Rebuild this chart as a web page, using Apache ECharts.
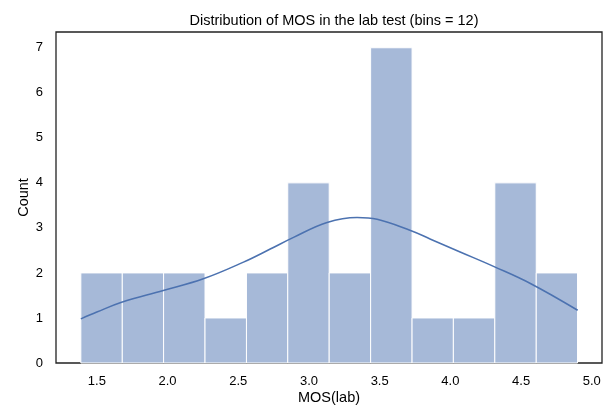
<!DOCTYPE html>
<html><head><meta charset="utf-8">
<script src="https://cdn.jsdelivr.net/npm/echarts@6/dist/echarts.min.js"></script>
<style>html,body{margin:0;padding:0;background:#fff}#c{width:608px;height:408px}</style>
</head><body><div id="c"></div>
<script>
const binEdges = [1.387, 1.680, 1.972, 2.265, 2.558, 2.850, 3.143, 3.436, 3.729, 4.021, 4.314, 4.607, 4.899];
const counts = [2, 2, 2, 1, 2, 4, 2, 7, 1, 1, 4, 2];
const kdeX = [1.387, 1.5, 1.675, 1.97, 2.253, 2.537, 2.726, 2.891, 3.128, 3.34, 3.482, 3.718, 3.86, 4.073, 4.309, 4.569, 4.9];
const kdeY = [0.98, 1.13, 1.35, 1.61, 1.87, 2.24, 2.53, 2.79, 3.12, 3.23, 3.19, 2.94, 2.75, 2.46, 2.14, 1.76, 1.17];
const xTicks = [1.5, 2.0, 2.5, 3.0, 3.5, 4.0, 4.5, 5.0];
const yTicks = [0, 1, 2, 3, 4, 5, 6, 7];

const barData = counts.map((c, i) => [binEdges[i], binEdges[i + 1], c]);
const kdeData = kdeX.map((x, i) => [x, kdeY[i]]);
const font = 'Liberation Sans, Arial, sans-serif';

const chart = echarts.init(document.getElementById('c'), null, {renderer: 'canvas'});
chart.setOption({
  animation: false,
  title: {text: 'Distribution of MOS in the lab test (bins = 12)', left: 329, textAlign: 'center', top: 8,
    textStyle: {fontFamily: font, fontSize: 14.5, fontWeight: 'normal', color: '#000'}},
  grid: {left: 56, right: 6, top: 32, bottom: 45, show: true, borderColor: '#222', borderWidth: 1.3,
    backgroundColor: 'transparent', containLabel: false, outerBoundsMode: 'none'},
  xAxis: {type: 'value', min: 1.2113, max: 5.072,
    name: 'MOS(lab)', nameLocation: 'middle', nameGap: 27, nameMoveOverlap: false,
    nameTextStyle: {fontFamily: font, fontSize: 14.5, color: '#000'},
    axisLine: {show: false}, axisTick: {show: false}, splitLine: {show: false},
    axisLabel: {customValues: xTicks, formatter: v => v.toFixed(1), fontFamily: font, fontSize: 13, color: '#000', margin: 12}},
  yAxis: {type: 'value', min: 0, max: 7.35,
    name: 'Count', nameLocation: 'middle', nameGap: 25, nameMoveOverlap: false,
    nameTextStyle: {fontFamily: font, fontSize: 14.5, color: '#000'},
    axisLine: {show: false}, axisTick: {show: false}, splitLine: {show: false},
    axisLabel: {customValues: yTicks, fontFamily: font, fontSize: 13, color: '#000', margin: 13}},
  series: [
    {type: 'custom', data: barData, z: 2,
      renderItem: (params, api) => {
        const p0 = api.coord([api.value(0), api.value(2)]);
        const p1 = api.coord([api.value(1), 0]);
        return {type: 'rect', shape: {x: p0[0], y: p0[1], width: p1[0] - p0[0], height: p1[1] - p0[1]},
          style: {fill: '#a6b9d8', stroke: '#ffffff', lineWidth: 1}};
      }},
    {type: 'line', data: kdeData, smooth: 0.4, showSymbol: false, z: 3,
      lineStyle: {color: '#4c72b0', width: 1.6}}
  ]
});
</script></body></html>
